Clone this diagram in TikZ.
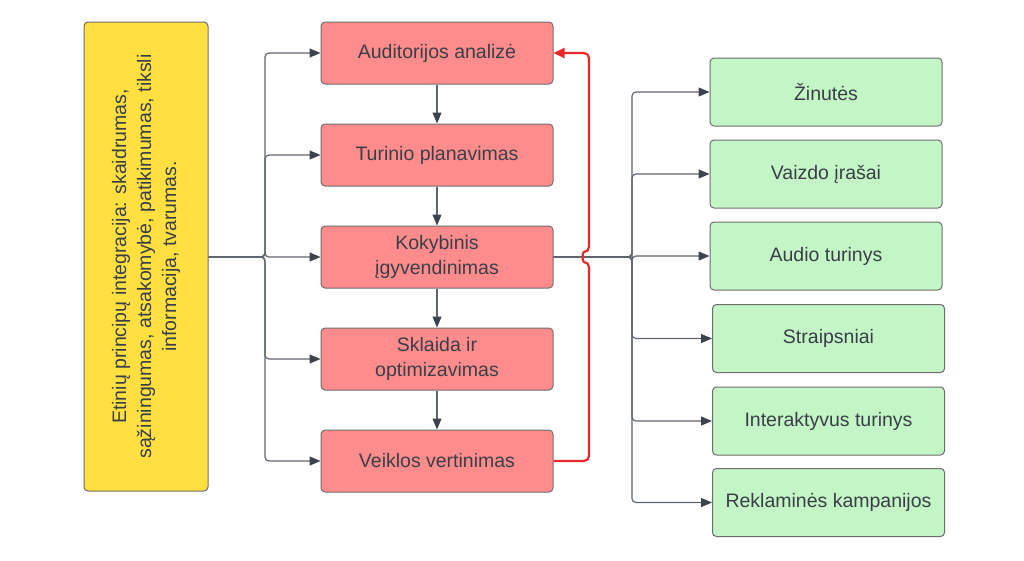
\documentclass[tikz,border=0pt]{standalone}
\usepackage{fontspec}
\setmainfont{Liberation Sans}
\usetikzlibrary{arrows.meta}
\definecolor{txt}{HTML}{3A3F47}
\definecolor{edge}{HTML}{6E6E6E}
\definecolor{pinkf}{HTML}{FF8C8C}
\definecolor{greenf}{HTML}{C3F5C6}
\definecolor{yellowf}{HTML}{FFE040}
\definecolor{conn}{HTML}{5F656E}
\definecolor{arr}{HTML}{3D434D}
\definecolor{redl}{HTML}{E8282B}
\tikzset{
  box/.style={draw=edge, line width=1pt, rounded corners=4pt, text=txt, align=center,
    font=\fontsize{19.5}{25}\selectfont, inner sep=2pt},
  pbox/.style={box, fill=pinkf, minimum width=232pt, minimum height=62pt},
  gbox/.style={box, fill=greenf, minimum width=232pt, minimum height=68pt},
  cline/.style={draw=conn, line width=1.2pt, rounded corners=4pt,
    -{Triangle[length=11pt,width=9pt,fill=arr,color=arr]}},
  rline/.style={draw=redl, line width=2.2pt, rounded corners=5pt,
    -{Triangle[length=11pt,width=10pt,fill=redl,color=redl]}}
}
\begin{document}
\begin{tikzpicture}[x=1pt,y=-1pt]
\useasboundingbox (0,0) rectangle (1024,560);
% yellow
\node[box, fill=yellowf, rotate=90, minimum width=469pt, minimum height=124pt] (Y) at (146,256.5)
  {Etinių principų integracija: skaidrumas,\\ sąžiningumas, atsakomybė, patikimumas, tiksli\\ informacija, tvarumas.};
% pink
\node[pbox] (A) at (437,53) {Auditorijos analizė};
\node[pbox] (B) at (437,155) {Turinio planavimas};
\node[pbox] (C) at (437,257) {Kokybinis\\ įgyvendinimas};
\node[pbox] (D) at (437,359) {Sklaida ir\\ optimizavimas};
\node[pbox] (E) at (437,461) {Veiklos vertinimas};
% green
\node[gbox] (G1) at (826,92) {Žinutės};
\node[gbox] (G2) at (826,174) {Vaizdo įrašai};
\node[gbox] (G3) at (826,256) {Audio turinys};
\node[gbox] (G4) at (828.5,338.5) {Straipsniai};
\node[gbox] (G5) at (828.5,421) {Interaktyvus turinys};
\node[gbox] (G6) at (828.5,502.5) {Reklaminės kampanijos};
% left connectors
\coordinate (jL) at (265,257);
\foreach \t in {A,B,C,D,E}{
  \draw[cline] (Y.south |- jL) -- (jL) |- (\t.west);
}
% vertical arrows
\draw[cline] (A.south) -- (B.north);
\draw[cline] (B.south) -- (C.north);
\draw[cline] (C.south) -- (D.north);
\draw[cline] (D.south) -- (E.north);
% right connectors
\coordinate (jR) at (632,257);
\foreach \t in {G1,G2,G3,G4,G5,G6}{
  \draw[cline] (C.east) -- (jR) |- (\t.west);
}
% red feedback
\coordinate (r1) at (589,461);
\coordinate (h1) at (589,262);
\coordinate (h2) at (589,252);
\coordinate (r2) at (589,53);
\draw[rline] (E.east) -- (r1) -- (h1) .. controls (582,262) and (582,252) .. (h2) -- (r2) -- (A.east);
\end{tikzpicture}
\end{document}
